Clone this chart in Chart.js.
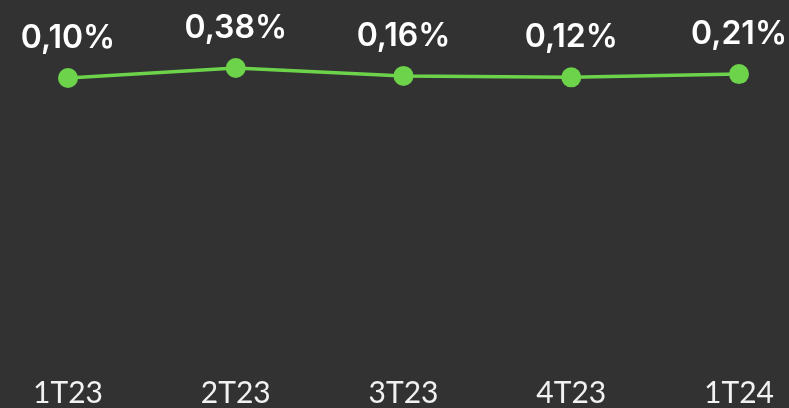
<!DOCTYPE html>
<html>
<head>
<meta charset="utf-8">
<script src="https://cdn.jsdelivr.net/npm/chart.js@4"></script>
<style>
  html, body { margin: 0; padding: 0; background: #323232; }
  #wrap { width: 789px; height: 408px; }
</style>
</head>
<body>
<div id="wrap"><canvas id="chart"></canvas></div>
<script>
const quarters = ["1T23", "2T23", "3T23", "4T23", "1T24"]
const rates = [0.10, 0.38, 0.16, 0.12, 0.21]
const rateLabels = ["0,10%", "0,38%", "0,16%", "0,12%", "0,21%"]

// draws the value above each point
const valueLabels = {
  id: "valueLabels",
  afterDatasetsDraw(chart) {
    const ctx = chart.ctx
    const meta = chart.getDatasetMeta(0)
    ctx.save()
    ctx.font = "600 32px Inter"
    ctx.fillStyle = "#ffffff"
    ctx.textAlign = "center"
    ctx.textBaseline = "middle"
    meta.data.forEach((pt, i) => {
      ctx.fillText(rateLabels[i], pt.x, pt.y - 40)
    })
    ctx.restore()
  }
}

new Chart(document.getElementById("chart"), {
  type: "line",
  data: {
    labels: quarters,
    datasets: [{
      data: rates,
      borderColor: "#6dd34a",
      backgroundColor: "#6dd34a",
      borderWidth: 3.5,
      pointRadius: 10,
      pointHoverRadius: 10,
      pointBorderWidth: 0,
      tension: 0
    }]
  },
  options: {
    responsive: true,
    maintainAspectRatio: false,
    animation: false,
    layout: { autoPadding: false, padding: { left: 68, right: 50, top: 0, bottom: 0 } },
    plugins: { legend: { display: false }, tooltip: { enabled: false } },
    scales: {
      x: {
        offset: false,
        grid: { display: false, drawTicks: false },
        border: { display: false },
        ticks: { color: "#f2f2f2", font: { family: "Lato", size: 30 }, padding: 5, maxRotation: 0 },
        afterFit: (scale) => { scale.height = 38 }
      },
      y: {
        display: false,
        min: -8.078,
        max: 2.286
      }
    }
  },
  plugins: [valueLabels]
})
</script>
</body>
</html>
